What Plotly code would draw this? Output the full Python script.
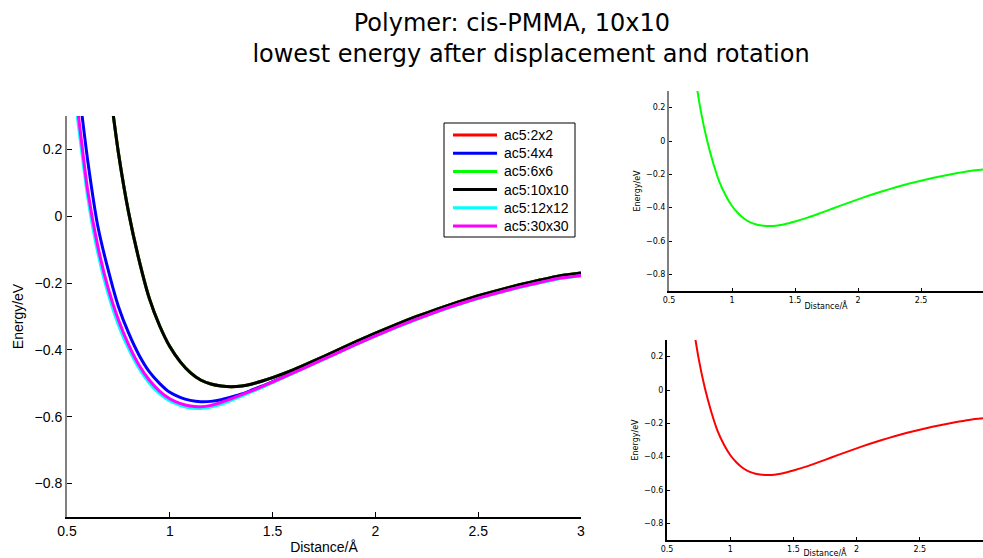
import plotly.graph_objects as go

# ---- data ----
dist = [0.55, 0.60, 0.65, 0.70, 0.75, 0.80, 0.85, 0.90, 0.95, 1.00, 1.05, 1.10, 1.15, 1.20,
        1.25, 1.30, 1.35, 1.40, 1.45, 1.50, 1.60, 1.70, 1.80, 1.90, 2.00, 2.10, 2.20, 2.30,
        2.40, 2.50, 2.60, 2.70, 2.80, 2.90, 3.00]

e_10x10 = [None, None, None, 0.42, 0.19, 0.01, -0.13, -0.245, -0.327, -0.39, -0.435, -0.468, -0.49, -0.502,
           -0.508, -0.51, -0.508, -0.502, -0.493, -0.483, -0.46, -0.433, -0.405, -0.377, -0.35, -0.324, -0.30, -0.278,
           -0.257, -0.238, -0.221, -0.205, -0.191, -0.178, -0.17]
e_2x2 = list(e_10x10)
e_6x6 = list(e_10x10)
e_4x4 = [0.42, 0.17, -0.03, -0.16, -0.27, -0.35, -0.415, -0.465, -0.50, -0.527, -0.542, -0.551, -0.555, -0.554,
         -0.549, -0.541, -0.532, -0.52, -0.508, -0.495, -0.468, -0.44, -0.412, -0.384, -0.357, -0.331, -0.307, -0.284,
         -0.263, -0.244, -0.227, -0.211, -0.197, -0.184, -0.176]
e_12x12 = [0.30, 0.06, -0.11, -0.232, -0.325, -0.397, -0.455, -0.499, -0.531, -0.553, -0.566, -0.574, -0.575, -0.571,
           -0.563, -0.551, -0.538, -0.525, -0.512, -0.498, -0.470, -0.442, -0.414, -0.386, -0.359, -0.333, -0.309, -0.286,
           -0.265, -0.246, -0.229, -0.213, -0.199, -0.186, -0.178]
e_30x30 = [0.33, 0.08, -0.09, -0.215, -0.31, -0.385, -0.445, -0.49, -0.523, -0.546, -0.560, -0.568, -0.570, -0.566,
           -0.557, -0.546, -0.534, -0.522, -0.509, -0.496, -0.469, -0.441, -0.413, -0.385, -0.358, -0.332, -0.308, -0.285,
           -0.264, -0.245, -0.228, -0.212, -0.198, -0.185, -0.177]

series_names = ["ac5:2x2", "ac5:4x4", "ac5:6x6", "ac5:10x10", "ac5:12x12", "ac5:30x30"]
series_vals = [e_2x2, e_4x4, e_6x6, e_10x10, e_12x12, e_30x30]
series_colors = ["#ff0000", "#0000ff", "#00ff00", "#000000", "#00ffff", "#ff00ff"]

x_ticks = [0.5, 1, 1.5, 2, 2.5, 3]
x_ticktext = ["0.5", "1", "1.5", "2", "2.5", "3"]
y_ticks = [0.2, 0, -0.2, -0.4, -0.6, -0.8]
y_ticktext = ["0.2", "0", "\u22120.2", "\u22120.4", "\u22120.6", "\u22120.8"]

W, H = 983, 558

fig = go.Figure()

for name, vals, col in zip(series_names, series_vals, series_colors):
    fig.add_trace(go.Scatter(x=dist, y=vals, mode="lines", name=name, showlegend=False,
                             line=dict(color=col, width=3, shape="spline", smoothing=0.5),
                             xaxis="x", yaxis="y"))

# top-right: 6x6 (green)
fig.add_trace(go.Scatter(x=dist, y=e_6x6, mode="lines", showlegend=False,
                         line=dict(color="#00ff00", width=2, shape="spline", smoothing=0.5),
                         xaxis="x2", yaxis="y2"))
# bottom-right: 2x2 (red)
fig.add_trace(go.Scatter(x=dist, y=e_2x2, mode="lines", showlegend=False,
                         line=dict(color="#ff0000", width=2, shape="spline", smoothing=0.5),
                         xaxis="x3", yaxis="y3"))

main_font = dict(family="Liberation Sans, Arial, sans-serif", size=14, color="#000")
small_font = dict(family="DejaVu Sans, sans-serif", size=8, color="#000")

def xax(domain, rng, anchor, font, title, standoff, tlen):
    return dict(domain=domain, range=rng, anchor=anchor, tickvals=x_ticks, ticktext=x_ticktext,
                ticks="inside", ticklen=tlen, tickcolor="#000", showline=True, linecolor="#000",
                linewidth=2, showgrid=False, zeroline=False, tickfont=font, automargin=False,
                title=dict(text=title, font=font, standoff=standoff))

def yax(domain, anchor, font, title, standoff, tlen, lcol):
    return dict(domain=domain, range=[-0.9, 0.3], anchor=anchor, tickvals=y_ticks, ticktext=y_ticktext,
                ticks="inside", ticklen=tlen, tickcolor="#000", showline=True, linecolor=lcol,
                linewidth=2, showgrid=False, zeroline=False, tickfont=font, automargin=False,
                title=dict(text=title, font=font, standoff=standoff))

# ---- manual legend (box, line samples, labels) in pixel positions ----
shapes = [dict(type="rect", xref="paper", yref="paper",
               x0=444 / W, x1=575 / W, y0=1 - 237 / H, y1=1 - 123 / H,
               line=dict(color="#000", width=1), fillcolor="white", layer="above")]
annotations = []
row0, step = 135, 18.2
for i, (name, col) in enumerate(zip(series_names, series_colors)):
    yy = 1 - (row0 + i * step) / H
    shapes.append(dict(type="line", xref="paper", yref="paper", x0=453 / W, x1=497 / W,
                       y0=yy, y1=yy, line=dict(color=col, width=3), layer="above"))
    annotations.append(dict(xref="paper", yref="paper", x=502 / W, y=yy, xanchor="left",
                            yanchor="middle", text=name, showarrow=False,
                            font=dict(family="Liberation Sans, Arial, sans-serif", size=14,
                                      color="#000")))

fig.update_layout(
    width=W, height=H,
    margin=dict(l=0, r=0, t=0, b=0),
    paper_bgcolor="white", plot_bgcolor="white",
    title=dict(text="Polymer: cis-PMMA, 10x10\u00a0\u00a0\u00a0\u00a0\u00a0<br>lowest energy after displacement and rotation",
               x=531 / W, xanchor="center", y=0.945, yanchor="top",
               font=dict(family="DejaVu Sans, sans-serif", size=24, color="#000")),
    xaxis=xax([67 / W, 581 / W], [0.5, 3], "y", main_font, "Distance/\u00c5", 4, 5),
    yaxis=yax([1 - 517 / H, 1 - 116 / H], "x", main_font, "Energy/eV", 8, 5, "#808080"),
    xaxis2=xax([669 / W, 1.0], [0.5, 0.5 + (983 - 669) / 126.0], "y2", small_font, "Distance/\u00c5", 0, 3),
    yaxis2=yax([1 - 291 / H, 1 - 91 / H], "x2", small_font, "Energy/eV", 4, 3, "#808080"),
    xaxis3=xax([667 / W, 1.0], [0.5, 3], "y3", small_font, "Distance/\u00c5", 0, 3),
    yaxis3=yax([1 - 540 / H, 1 - 340 / H], "x3", small_font, "Energy/eV", 4, 3, "#000"),
    shapes=shapes,
    annotations=annotations,
    showlegend=False,
)

fig.write_html("out.html")
